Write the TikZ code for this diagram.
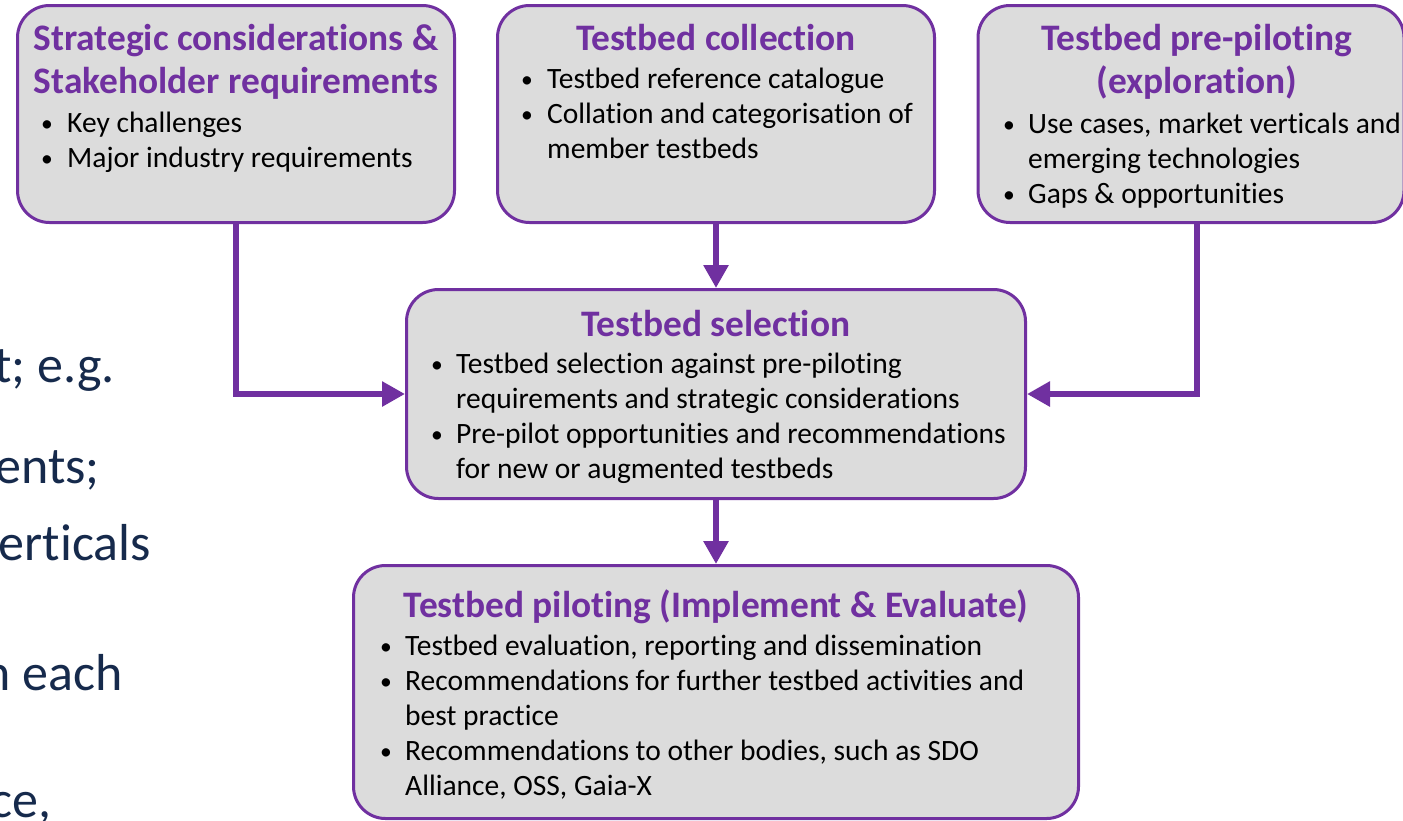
\documentclass[tikz,border=0pt]{standalone}
\usepackage{fontspec}
\setmainfont{Carlito}[Ligatures=NoCommon]
\usepackage{xcolor}
\usepackage{tikz}
\usetikzlibrary{arrows.meta, positioning, calc}

\definecolor{tbpurple}{RGB}{112,48,160}
\definecolor{tbgrey}{RGB}{220,220,220}
\definecolor{tbnavy}{RGB}{22,42,76}
\newcommand{\bodysize}{\fontsize{29.5}{35}\selectfont}
\newcommand{\ttlsize}{\fontsize{37.4}{43}\selectfont\bfseries}
\newcommand{\itm}[1]{\makebox[#1][l]{\raisebox{1pt}{\scalebox{0.8}{\textbullet}}}}

\begin{document}
\begin{tikzpicture}[x=1pt, y=-1pt]
    \tikzstyle{box} = [rectangle, draw=tbpurple, line width=3pt, fill=tbgrey, rounded corners=32pt]
    \tikzstyle{ttl} = [anchor=base, inner sep=0pt, text=tbpurple, font=\ttlsize]
    \tikzstyle{blist} = [anchor=base west, inner sep=0pt, text=black, font=\bodysize]
    \tikzstyle{side} = [anchor=base east, inner sep=0pt, text=tbnavy, font=\fontsize{52}{60}\selectfont]
    \tikzstyle{flow} = [draw=tbpurple, line width=6pt, -{Triangle[length=23pt,width=24pt]}]

    \useasboundingbox (0,0) rectangle (1403,820);
    \clip (0,0) rectangle (1403,820);

    % text cut off on the left
    \node[side] (s1) at (115,382) {t; e.g.};
    \node[side] (s2) at (100,483) {ents;};
    \node[side] (s3) at (151,560) {erticals};
    \node[side] (s4) at (123,690) {n each};
    \node[side] (s5) at (52,817) {ce,};

    % boxes
    \node[box, minimum width=437pt, minimum height=217pt] (strat) at (236,114) {};
    \node[box, minimum width=437pt, minimum height=217pt] (collect) at (716,114) {};
    \node[box, minimum width=426pt, minimum height=217pt] (prepilot) at (1191,114) {};
    \node[box, minimum width=619pt, minimum height=209pt] (select) at (716,394) {};
    \node[box, minimum width=725pt, minimum height=253pt] (pilot) at (716,692) {};

    % titles
    \node[ttl] (strat-t) at (236,50) {\begin{tabular}[t]{@{}c@{}}Strategic considerations \&\\Stakeholder requirements\end{tabular}};
    \node[ttl] (collect-t) at (716,50) {Testbed collection};
    \node[ttl] (prepilot-t) at (1197,50) {\begin{tabular}[t]{@{}c@{}}Testbed pre-piloting\\(exploration)\end{tabular}};
    \node[ttl] (select-t) at (716,336) {Testbed selection};
    \node[ttl] (pilot-t) at (716,617) {Testbed piloting (Implement \& Evaluate)};

    % bullet lists
    \node[blist] (strat-b) at (41,132) {\begin{tabular}[t]{@{}l@{}l@{}}
        \itm{26pt} & Key challenges\\
        \itm{26pt} & Major industry requirements
    \end{tabular}};
    \node[blist] (collect-b) at (521,88) {\begin{tabular}[t]{@{}l@{}l@{}}
        \itm{26pt} & Testbed reference catalogue\\
        \itm{26pt} & Collation and categorisation of\\
                   & member testbeds
    \end{tabular}};
    \node[blist] (prepilot-b) at (1003,133) {\begin{tabular}[t]{@{}l@{}l@{}}
        \itm{25pt} & Use cases, market verticals and\\
                   & emerging technologies\\
        \itm{25pt} & Gaps \& opportunities
    \end{tabular}};
    \node[blist] (select-b) at (431,373) {\begin{tabular}[t]{@{}l@{}l@{}}
        \itm{25pt} & Testbed selection against pre-piloting\\
                   & requirements and strategic considerations\\
        \itm{25pt} & Pre-pilot opportunities and recommendations\\
                   & for new or augmented testbeds
    \end{tabular}};
    \node[blist] (pilot-b) at (380,655) {\begin{tabular}[t]{@{}l@{}l@{}}
        \itm{25pt} & Testbed evaluation, reporting and dissemination\\
        \itm{25pt} & Recommendations for further testbed activities and\\
                   & best practice\\
        \itm{25pt} & Recommendations to other bodies, such as SDO\\
                   & Alliance, OSS, Gaia-X
    \end{tabular}};

    % connectors
    \draw[flow] (strat.south) |- (select.west);
    \draw[flow] (collect.south) -- (select.north);
    \draw[flow] ([xshift=6pt]prepilot.south) |- (select.east);
    \draw[flow] (select.south) -- (pilot.north);
\end{tikzpicture}
\end{document}
